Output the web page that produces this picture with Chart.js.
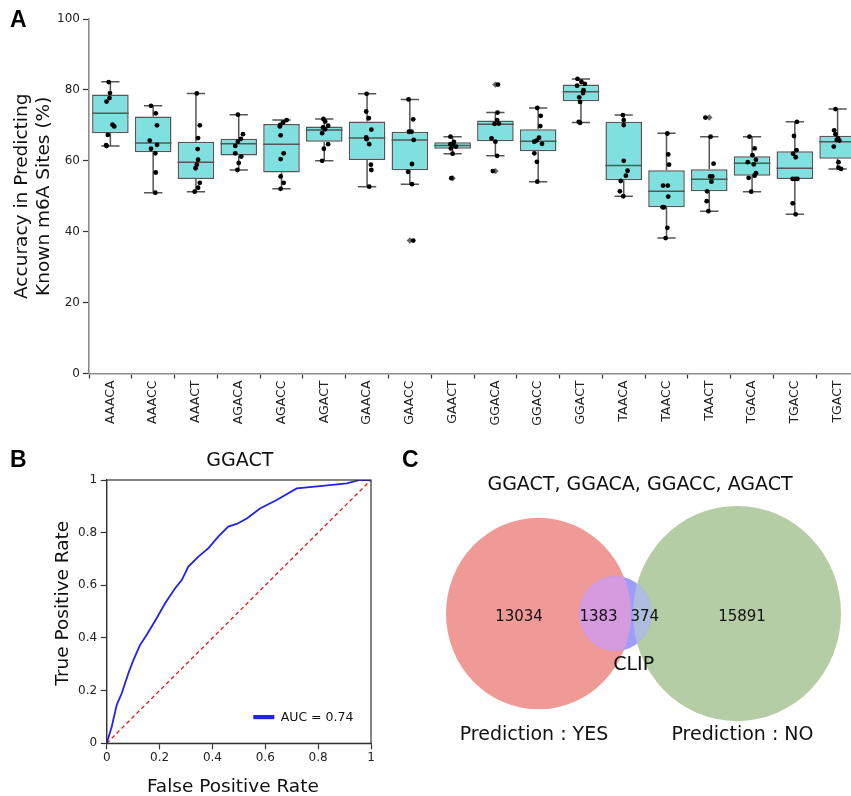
<!DOCTYPE html>
<html><head><meta charset="utf-8">
<script src="https://cdn.jsdelivr.net/npm/chart.js@4.4.0/dist/chart.umd.min.js"></script>
<style>
html,body{margin:0;padding:0;background:#fff;overflow:hidden;width:851px;height:796px;}
#wrap{position:relative;width:851px;height:796px;overflow:hidden;background:#fff;}
canvas{position:absolute;display:block;}
.lbl{position:absolute;font-family:'Liberation Sans',Arial,sans-serif;font-weight:bold;font-size:23px;line-height:23px;color:#000;}
</style></head><body>
<div id="wrap">
  <canvas id="chartA" width="863" height="440" style="left:0;top:0;width:863px;height:440px"></canvas>
  <canvas id="chartB" width="420" height="356" style="left:0;top:440px;width:420px;height:356px"></canvas>
  <canvas id="chartC" width="431" height="356" style="left:420px;top:440px;width:431px;height:356px"></canvas>
  <div class="lbl" style="left:10px;top:8px">A</div>
  <div class="lbl" style="left:10px;top:448px">B</div>
  <div class="lbl" style="left:402px;top:448px">C</div>
</div>
<script>
// ---------------- DATA: panel A ----------------
const motifs = ['AAACA','AAACC','AAACT','AGACA','AGACC','AGACT','GAACA','GAACC','GAACT','GGACA','GGACC','GGACT','TAACA','TAACC','TAACT','TGACA','TGACC','TGACT'];
const whiskerHigh = [82.3, 75.5, 79.0, 73.0, 71.5, 71.8, 78.9, 77.3, 66.8, 73.6, 74.9, 83.1, 72.9, 67.8, 66.8, 66.8, 71.0, 74.6];
const boxQ3       = [78.7, 72.5, 65.4, 66.2, 70.4, 69.7, 71.1, 68.2, 65.2, 71.4, 68.9, 81.5, 71.0, 57.3, 57.6, 61.3, 62.7, 67.1];
const boxMedian   = [73.4, 65.0, 59.6, 64.8, 64.7, 68.7, 66.4, 65.9, 64.3, 70.3, 65.5, 79.5, 58.7, 51.4, 54.8, 59.3, 57.9, 65.4];
const boxQ1       = [67.8, 62.4, 54.9, 61.5, 56.7, 65.4, 60.2, 57.3, 63.4, 65.5, 62.7, 76.8, 54.5, 46.9, 51.4, 55.8, 54.9, 60.6];
const whiskerLow  = [64.2, 51.0, 51.3, 57.4, 52.1, 60.0, 52.7, 53.4, 62.0, 61.4, 54.1, 70.8, 50.0, 38.2, 45.8, 51.3, 44.9, 57.7];
const accuracyPoints = [
  [82.2, 79.1, 77.7, 76.7, 70.2, 69.7, 67.3, 64.4, 64.2],
  [75.5, 73.4, 70.0, 65.7, 64.5, 63.4, 62.1, 56.7, 51.0],
  [79.0, 70.0, 66.4, 63.3, 60.3, 58.9, 57.9, 53.8, 52.4, 51.3],
  [73.0, 67.5, 66.2, 65.4, 64.2, 62.1, 61.2, 59.4, 57.4],
  [71.5, 70.8, 70.1, 69.7, 67.2, 62.1, 60.5, 55.6, 53.8, 52.1],
  [71.8, 71.1, 69.9, 69.4, 68.9, 67.8, 64.7, 63.4, 60.0],
  [78.9, 73.9, 72.0, 68.8, 66.6, 66.1, 64.7, 58.9, 57.4, 52.7],
  [77.3, 71.7, 68.2, 68.2, 65.9, 59.1, 56.9, 53.4, 37.5],
  [66.8, 65.3, 64.7, 64.0, 64.3, 63.5, 62.0, 55.1],
  [81.5, 73.6, 71.5, 70.4, 70.5, 66.3, 65.4, 61.4, 57.1],
  [74.9, 72.7, 69.8, 66.5, 65.7, 65.4, 64.8, 62.1, 59.7, 54.1],
  [83.1, 82.3, 81.7, 81.2, 79.9, 79.1, 77.9, 76.6, 71.0, 70.7],
  [72.9, 71.5, 70.1, 60.0, 57.2, 55.8, 54.3, 51.4, 50.0],
  [67.7, 61.8, 58.9, 53.0, 53.0, 49.9, 46.9, 46.9, 41.1, 38.2],
  [72.2, 66.8, 59.2, 55.6, 55.6, 54.1, 51.4, 48.6, 45.8],
  [66.8, 63.5, 61.6, 60.3, 59.6, 59.0, 56.5, 55.8, 55.2, 51.3],
  [71.0, 67.0, 63.0, 62.0, 61.0, 54.9, 54.9, 54.9, 48.0, 44.9],
  [74.6, 68.6, 67.5, 66.3, 65.9, 65.7, 64.0, 59.6, 58.1, 57.7]
];
// horizontal strip-plot jitter (category units), kept apart from the values
const stripJitter = [
  [-0.04,-0.01,-0.02,-0.09,0.05,0.09,-0.06,-0.10,-0.09],
  [-0.05,0.06,0.09,-0.08,0.09,-0.05,0.05,0.06,0.05],
  [0.02,0.09,0.05,0.04,0.05,0.02,-0.01,0.09,0.05,-0.03],
  [-0.02,0.10,0.05,-0.02,-0.08,-0.08,0.06,0,-0.03],
  [0.12,0.04,-0.03,-0.04,-0.02,0.05,-0.02,-0.02,0.05,-0.02],
  [-0.02,0.02,0.09,-0.03,0.02,-0.05,0.09,-0.01,-0.05],
  [-0.01,-0.02,0.04,0.10,-0.02,-0.01,0.05,0.09,0.10,0.05],
  [-0.03,0.08,-0.02,0.04,0.09,0.05,-0.04,0.05,0.08],
  [-0.05,0.03,-0.05,0.08,0.01,-0.04,0,-0.03],
  [0.06,0.05,0.04,-0.02,0.08,-0.09,0,0.04,-0.06],
  [-0.02,0.06,0.05,0.02,-0.04,-0.09,0.09,-0.09,-0.03,-0.02],
  [-0.08,0.01,0.09,-0.09,0.06,0.05,-0.04,-0.02,-0.05,-0.02],
  [-0.02,0,0,0,0.09,0.05,-0.07,-0.09,-0.01],
  [0.02,0.04,0.06,-0.08,0.03,0.04,-0.09,-0.06,0.02,-0.02],
  [-0.09,0.03,0.10,0.02,0.07,0.05,-0.05,-0.06,-0.02],
  [-0.06,0.06,0.01,0.09,-0.10,0.04,0.09,0.06,-0.08,-0.02],
  [0.05,-0.02,0.04,-0.04,0.02,-0.05,0.06,0.01,-0.05,0.02],
  [-0.05,-0.08,-0.05,0.01,-0.02,0.04,-0.09,0.02,0.02,0.08]
];
const yTicksA = [0, 20, 40, 60, 80, 100];

// ---------------- DATA: panel B ----------------
const rocFPR = [0, 0.019, 0.038, 0.057, 0.082, 0.101, 0.126, 0.151, 0.189, 0.221, 0.259, 0.284, 0.309, 0.347, 0.385, 0.422, 0.460, 0.492, 0.530, 0.580, 0.643, 0.719, 0.807, 0.908, 0.958, 1];
const rocTPR = [0, 0.063, 0.146, 0.190, 0.266, 0.316, 0.373, 0.411, 0.475, 0.532, 0.589, 0.620, 0.671, 0.709, 0.741, 0.785, 0.823, 0.833, 0.854, 0.892, 0.924, 0.968, 0.977, 0.987, 1.0, 1];
const rocTicks = [0, 0.2, 0.4, 0.6, 0.8, 1];
const rocAUC = 0.74;

// ---------------- DATA: panel C ----------------
const vennTitle = 'GGACT, GGACA, GGACC, AGACT';
const vennSetNames = ['Prediction : YES', 'Prediction : NO', 'CLIP'];
const vennRegionCounts = [13034, 1383, 374, 15891]; // YES only, YES&CLIP, NO&CLIP, NO only

// ---------------- layout / style ----------------
Chart.defaults.font.family = "'DejaVu Sans', 'Noto Sans', sans-serif";
Chart.defaults.color = '#222';
const FONT = "'DejaVu Sans', 'Noto Sans', sans-serif";

// ===== Panel A =====
const boxPlugin = {
  id: 'boxWhisker',
  afterDatasetDraw(chart, args) {
    if (args.index !== 0) return;
    const {ctx, scales: {x, y}} = chart;
    const meta = chart.getDatasetMeta(0);
    ctx.save();
    ctx.strokeStyle = '#565656';
    ctx.lineWidth = 1.5;
    motifs.forEach((m, i) => {
      const w = meta.data[i].getProps(['width'], true).width;
      const cx = x.getPixelForValue(i);
      const cap = w / 4;
      const yH = y.getPixelForValue(whiskerHigh[i]), yQ3 = y.getPixelForValue(boxQ3[i]);
      const yQ1 = y.getPixelForValue(boxQ1[i]), yL = y.getPixelForValue(whiskerLow[i]);
      const yM = y.getPixelForValue(boxMedian[i]);
      ctx.beginPath();
      ctx.moveTo(cx, yH); ctx.lineTo(cx, yQ3);
      ctx.moveTo(cx, yQ1); ctx.lineTo(cx, yL);
      ctx.moveTo(cx - cap, yH); ctx.lineTo(cx + cap, yH);
      ctx.moveTo(cx - cap, yL); ctx.lineTo(cx + cap, yL);
      ctx.moveTo(cx - w / 2, yM); ctx.lineTo(cx + w / 2, yM);
      ctx.stroke();
    });
    ctx.restore();
  }
};

const stripData = [];
const flierData = [];
accuracyPoints.forEach((vals, i) => {
  vals.forEach((v, k) => {
    stripData.push({x: i + stripJitter[i][k], y: v});
    if (v > whiskerHigh[i] + 0.5 || v < whiskerLow[i] - 0.5) flierData.push({x: i, y: v});
  });
});

new Chart(document.getElementById('chartA'), {
  type: 'bar',
  data: {
    datasets: [
      {
        type: 'bar', label: 'IQR', order: 3,
        data: motifs.map((m, i) => ({x: i, y: [boxQ1[i], boxQ3[i]]})),
        backgroundColor: '#80dfdf', borderColor: '#565656', borderWidth: 1.5, borderSkipped: false,
        categoryPercentage: 1, barPercentage: 0.855
      },
      {
        type: 'scatter', label: 'outliers', order: 2, data: flierData,
        pointStyle: 'rectRot', pointRadius: 3.2, backgroundColor: '#666', borderWidth: 0
      },
      {
        type: 'scatter', label: 'runs', order: 1, data: stripData,
        pointRadius: 2.4, backgroundColor: '#000', borderWidth: 0
      }
    ]
  },
  options: {
    responsive: false, animation: false, events: [],
    layout: {padding: {top: 19, left: 0, right: 0, bottom: 0}},
    plugins: {legend: {display: false}, tooltip: {enabled: false}},
    scales: {
      x: {
        type: 'linear', min: -0.5, max: 17.5, offset: false,
        afterBuildTicks: (s) => { s.ticks = motifs.map((m, i) => ({value: i})); },
        afterFit: (s) => { s.height = 66.5; },
        ticks: {callback: (v) => motifs[v], autoSkip: false, minRotation: 90, maxRotation: 90,
                font: {size: 12.5}, color: '#222', padding: 2},
        grid: {display: true, drawOnChartArea: false, drawTicks: true, tickLength: 5, tickColor: '#333', tickWidth: 1.2},
        border: {display: true, color: '#8c8c8c', width: 1.6}
      },
      y: {
        type: 'linear', min: 0, max: 100,
        afterBuildTicks: (s) => { s.ticks = yTicksA.map(v => ({value: v})); },
        afterFit: (s) => { s.width = 89; },
        ticks: {font: {size: 12}, color: '#222', padding: 3},
        grid: {display: true, drawOnChartArea: false, drawTicks: true, tickLength: 6, tickColor: '#333', tickWidth: 1.2},
        border: {display: true, color: '#8c8c8c', width: 1.6},
        title: {display: true, text: ['Accuracy in Predicting', 'Known m6A Sites (%)'],
                font: {size: 18.5}, color: '#111', padding: {top: 11, bottom: 0}}
      }
    }
  },
  plugins: [boxPlugin]
});

// ===== Panel B =====
const rocDecor = {
  id: 'rocDecor',
  afterDraw(chart) {
    const {ctx, chartArea: a} = chart;
    ctx.save();
    ctx.strokeStyle = '#333'; ctx.lineWidth = 1.2;
    ctx.strokeRect(a.left, a.top, a.right - a.left, a.bottom - a.top);
    // legend
    const ds = chart.data.datasets[0];
    ctx.fillStyle = ds.borderColor;
    ctx.fillRect(a.right - 117.7, a.bottom - 28.3, 21, 4.2);
    ctx.fillStyle = '#111';
    ctx.font = '12.5px ' + FONT;
    ctx.textBaseline = 'middle'; ctx.textAlign = 'left';
    ctx.fillText(ds.label, a.right - 90.3, a.bottom - 25.8);
    // titles
    ctx.font = '19px ' + FONT;
    ctx.textAlign = 'center';
    ctx.fillText('GGACT', (a.left + a.right) / 2 + 1, a.top - 19.3);
    ctx.font = '18.5px ' + FONT;
    ctx.fillText('False Positive Rate', (a.left + a.right) / 2 - 6, a.bottom + 43.6);
    ctx.save();
    ctx.translate(63.6, (a.top + a.bottom) / 2 - 8.4);
    ctx.rotate(-Math.PI / 2);
    ctx.fillText('True Positive Rate', 0, 0);
    ctx.restore();
    ctx.restore();
  }
};
const fmtRoc = (v) => (v === 0 || v === 1) ? String(v) : v.toFixed(1);

new Chart(document.getElementById('chartB'), {
  type: 'line',
  data: {
    datasets: [
      {label: 'AUC = ' + rocAUC.toFixed(2), data: rocFPR.map((f, i) => ({x: f, y: rocTPR[i]})),
       borderColor: '#2222ee', borderWidth: 1.8, pointRadius: 0, tension: 0, fill: false},
      {label: 'chance', data: [{x: 0, y: 0}, {x: 1, y: 1}],
       borderColor: '#e01818', borderWidth: 1.3, borderDash: [4, 3], pointRadius: 0, fill: false}
    ]
  },
  options: {
    responsive: false, animation: false, events: [],
    layout: {padding: {top: 40, left: 0, right: 49, bottom: 0}},
    plugins: {legend: {display: false}, tooltip: {enabled: false}},
    scales: {
      x: {
        type: 'linear', min: 0, max: 1,
        afterBuildTicks: (s) => { s.ticks = rocTicks.map(v => ({value: v})); },
        afterFit: (s) => { s.height = 52.7; },
        ticks: {callback: fmtRoc, font: {size: 12}, color: '#222', padding: 1, maxRotation: 0},
        grid: {display: true, drawOnChartArea: false, drawTicks: true, tickLength: 6, tickColor: '#333', tickWidth: 1.2},
        border: {display: true, color: '#333', width: 1.2}
      },
      y: {
        type: 'linear', min: 0, max: 1,
        afterBuildTicks: (s) => { s.ticks = rocTicks.map(v => ({value: v})); },
        afterFit: (s) => { s.width = 106.7; },
        ticks: {callback: fmtRoc, font: {size: 12}, color: '#222', padding: 3.5},
        grid: {display: true, drawOnChartArea: false, drawTicks: true, tickLength: 6, tickColor: '#333', tickWidth: 1.2},
        border: {display: true, color: '#333', width: 1.2}
      }
    }
  },
  plugins: [rocDecor]
});

// ===== Panel C =====
// geometry of the three sets in venn units (x: 1 unit = 1px, y scaled by the canvas aspect)
const vennLayout = {cx: [118.5, 317, 195.5], cy: [176.3, 176.3, 176.3], r: [92.5, 104, 36.2]};
const vennColors = {yes: '#f09a98', no: '#b5cda5', clip: '#9e9ef8', yesClip: '#d69ade', noClip: '#aebddd'};
const vennTextPos = {
  title: [220, 300.5],
  regions: [[99, 173.2], [178.5, 173.2], [224.8, 173.2], [322, 173.2]],
  sets: [[114, 58.9], [322.5, 58.9], [213.7, 126.6]]
};

const vennPlugin = {
  id: 'venn',
  afterDatasetsDraw(chart) {
    const {ctx, scales: {x, y}} = chart;
    const ell = (i) => {
      const cx = x.getPixelForValue(vennLayout.cx[i]);
      const cy = y.getPixelForValue(vennLayout.cy[i]);
      const rx = x.getPixelForValue(vennLayout.cx[i] + vennLayout.r[i]) - cx;
      const ry = cy - y.getPixelForValue(vennLayout.cy[i] + vennLayout.r[i]);
      const p = new Path2D();
      p.ellipse(cx, cy, rx, ry, 0, 0, Math.PI * 2);
      return p;
    };
    const yes = ell(0), no = ell(1), clip = ell(2);
    ctx.save();
    ctx.fillStyle = vennColors.yes; ctx.fill(yes);
    ctx.fillStyle = vennColors.no; ctx.fill(no);
    ctx.fillStyle = vennColors.clip; ctx.fill(clip);
    ctx.save(); ctx.clip(clip); ctx.fillStyle = vennColors.yesClip; ctx.fill(yes); ctx.restore();
    ctx.save(); ctx.clip(clip); ctx.fillStyle = vennColors.noClip; ctx.fill(no); ctx.restore();
    const P = (pt) => [x.getPixelForValue(pt[0]), y.getPixelForValue(pt[1])];
    ctx.fillStyle = '#111';
    ctx.textAlign = 'center'; ctx.textBaseline = 'middle';
    ctx.font = '19px ' + FONT;
    let p = P(vennTextPos.title); ctx.fillText(vennTitle, p[0], p[1]);
    vennSetNames.forEach((n, i) => { const q = P(vennTextPos.sets[i]); ctx.fillText(n, q[0], q[1]); });
    ctx.font = '15px ' + FONT;
    vennRegionCounts.forEach((c, i) => { const q = P(vennTextPos.regions[i]); ctx.fillText(String(c), q[0], q[1]); });
    ctx.restore();
  }
};

new Chart(document.getElementById('chartC'), {
  type: 'scatter',
  data: {
    datasets: vennSetNames.map((n, i) => ({label: n, data: [{x: vennLayout.cx[i], y: vennLayout.cy[i]}], pointRadius: 0}))
  },
  options: {
    responsive: false, animation: false, events: [],
    layout: {padding: 0},
    plugins: {legend: {display: false}, tooltip: {enabled: false}},
    scales: {
      x: {type: 'linear', display: false, min: 0, max: 431},
      y: {type: 'linear', display: false, min: 0, max: 344}
    }
  },
  plugins: [vennPlugin]
});
</script>
</body></html>
